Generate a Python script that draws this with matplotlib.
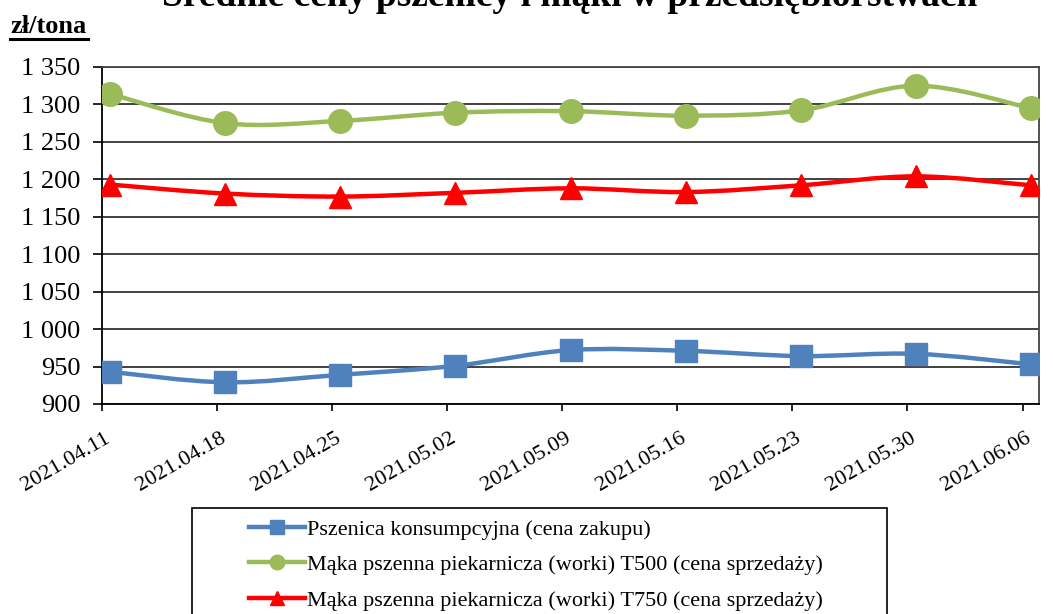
import matplotlib
matplotlib.use('Agg')
import matplotlib.pyplot as plt
from matplotlib.path import Path
from matplotlib.patches import PathPatch, Rectangle
from matplotlib.lines import Line2D
import matplotlib.transforms as mtransforms
import numpy as np

# ---- data ----
dates = ['2021.04.11', '2021.04.18', '2021.04.25', '2021.05.02', '2021.05.09',
         '2021.05.16', '2021.05.23', '2021.05.30', '2021.06.06']
day_offsets = [0, 7, 14, 21, 28, 35, 42, 49, 56]
pszenica = [943, 929, 939, 951, 972, 971, 964, 967, 953]
t500 = [1314, 1275, 1278, 1289, 1291, 1285, 1292, 1325, 1295]
t750 = [1193, 1181, 1177, 1182, 1188, 1183, 1192, 1204, 1192]
yticks = [900, 950, 1000, 1050, 1100, 1150, 1200, 1250, 1300, 1350]
ytick_labels = ['900', '950', '1 000', '1 050', '1 100', '1 150', '1 200', '1 250', '1 300', '1 350']
labels = ['Pszenica konsumpcyjna (cena zakupu)',
          'Mąka pszenna piekarnicza (worki) T500 (cena sprzedaży)',
          'Mąka pszenna piekarnicza (worki) T750 (cena sprzedaży)']
title = 'Średnie ceny pszenicy i mąki w przedsiębiorstwach'
unit = 'zł/tona'

colors = ['#4F81BD', '#9BBB59', '#FF0000']
markers = ['s', 'o', '^']
msizes = [16, 17, 16]

plt.rcParams['font.family'] = ['Liberation Serif', 'DejaVu Serif']

W, H = 1053, 614
fig = plt.figure(figsize=(W / 100, H / 100), dpi=100)
ax = fig.add_axes([102 / W, 1 - 404 / H, (1039 - 102) / W, (404 - 67) / H])


def smooth_path(x, y):
    pts = np.column_stack([x, y]).astype(float)
    n = len(pts)
    verts = [pts[0]]
    codes = [Path.MOVETO]
    for i in range(n - 1):
        p0 = pts[i - 1] if i > 0 else pts[i]
        p1 = pts[i]
        p2 = pts[i + 1]
        p3 = pts[i + 2] if i + 2 < n else pts[i + 1]
        c1 = p1 + (p2 - p0) / 6.0
        c2 = p2 - (p3 - p1) / 6.0
        verts += [c1, c2, p2]
        codes += [Path.CURVE4] * 3
    return Path(verts, codes)


xs = np.array(day_offsets) + 0.5
series = [pszenica, t500, t750]
handles = []
for vals, c, m, ms in zip(series, colors, markers, msizes):
    patch = PathPatch(smooth_path(xs, vals), fill=False, edgecolor=c, lw=3.2,
                      capstyle='round', joinstyle='round', zorder=3)
    ax.add_patch(patch)
    ax.plot(xs, vals, ls='none', marker=m, ms=ms, color=c, mec=c, zorder=4)
    handles.append(Line2D([], [], color=c, lw=3.2, marker=m, ms=10.5, mec=c))

ax.set_xlim(0, 57)
ax.set_ylim(900, 1350)
ax.set_yticks(yticks)
ax.set_yticklabels(ytick_labels)
ax.set_xticks(day_offsets)
ax.set_xticklabels(dates)
ax.yaxis.grid(True, color='#333333', lw=1.3)
ax.set_axisbelow(True)
for s in ['left', 'bottom']:
    ax.spines[s].set_color('black')
    ax.spines[s].set_linewidth(1.3)
for s in ['top', 'right']:
    ax.spines[s].set_color('#444444')
    ax.spines[s].set_linewidth(1.3)
ax.tick_params(axis='y', direction='out', length=6.5, width=1.2, pad=9, labelsize=19)
ax.tick_params(axis='x', direction='out', length=5, width=1.2, pad=4, labelsize=16)

offset = mtransforms.ScaledTranslation(2.5 / 100, -12.5 / 100, fig.dpi_scale_trans)
for lab in ax.get_xticklabels():
    lab.set_rotation(30)
    lab.set_ha('right')
    lab.set_va('top')
    lab.set_rotation_mode('anchor')
    lab.set_transform(lab.get_transform() + offset)

# title (partially cut at top, as in reference)
fig.text(570 / W, 1 - 6 / H, title, ha='center', va='baseline', fontsize=27,
         fontweight='bold')

# unit label with underline
fig.text(10 / W, 1 - 33 / H, unit, ha='left', va='baseline', fontsize=19, fontweight='bold')
fig.add_artist(Line2D([10 / W, 88 / W], [1 - 38.5 / H, 1 - 38.5 / H], color='black',
                      lw=2.2, transform=fig.transFigure))

# legend frame
fig.add_artist(Rectangle((192 / W, -0.05), (887 - 192) / W, (1 - 508 / H) + 0.05,
                         transform=fig.transFigure, fill=False, edgecolor='black',
                         lw=1.2, clip_on=False))
fig.legend(handles, labels, loc='upper left', bbox_to_anchor=(249 / W, 1 - 519 / H),
           frameon=False, fontsize=16, handlelength=2.5, handletextpad=0.12,
           labelspacing=0.68, borderpad=0, borderaxespad=0)

fig.savefig('out.png', dpi=100)
